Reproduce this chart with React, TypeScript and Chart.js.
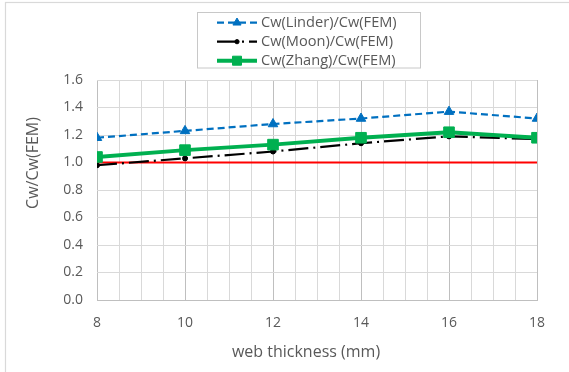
import { useEffect, useRef } from 'react';
import { Chart, registerables } from 'chart.js';

Chart.register(...registerables);

// ---- data ----
const thickness = [8, 10, 12, 14, 16, 18];
const linder = [1.18, 1.23, 1.28, 1.32, 1.37, 1.32];
const moon = [0.98, 1.03, 1.08, 1.14, 1.19, 1.17];
const zhang = [1.04, 1.09, 1.13, 1.18, 1.22, 1.18];
const reference = [1, 1, 1, 1, 1, 1];
const seriesNames = ['Cw(Linder)/Cw(FEM)', 'Cw(Moon)/Cw(FEM)', 'Cw(Zhang)/Cw(FEM)'];
const xTitle = 'web thickness (mm)';
const yTitle = 'Cw/Cw(FEM)';
const xMin = 8, xMax = 18, xStep = 0.5;
const yMin = 0, yMax = 1.6, yStep = 0.2;

const FONT = "'Open Sans', 'Noto Sans', sans-serif";
const TEXT = '#595959';

function pts(vals: number[]) {
  return thickness.map((x, i) => ({ x, y: vals[i] }));
}

function drawMarker(ctx: CanvasRenderingContext2D, style: string, x: number, y: number, r: number, color: string) {
  ctx.save();
  ctx.setLineDash([]);
  ctx.fillStyle = color;
  ctx.strokeStyle = color;
  ctx.lineWidth = 1;
  ctx.beginPath();
  if (style === 'triangle') {
    let rad = 0;
    ctx.moveTo(x + Math.sin(rad) * r, y - Math.cos(rad) * r);
    rad += (2 * Math.PI) / 3;
    ctx.lineTo(x + Math.sin(rad) * r, y - Math.cos(rad) * r);
    rad += (2 * Math.PI) / 3;
    ctx.lineTo(x + Math.sin(rad) * r, y - Math.cos(rad) * r);
    ctx.closePath();
  } else if (style === 'rect') {
    const s = Math.SQRT1_2 * r;
    ctx.rect(x - s, y - s, 2 * s, 2 * s);
  } else {
    ctx.arc(x, y, r, 0, Math.PI * 2);
  }
  ctx.fill();
  ctx.stroke();
  ctx.restore();
}

const framePlugin = {
  id: 'frame',
  beforeDraw(chart: any) {
    const ctx = chart.ctx as CanvasRenderingContext2D;
    ctx.save();
    ctx.fillStyle = '#ffffff';
    ctx.fillRect(0, 0, chart.width, chart.height);
    ctx.strokeStyle = '#d9d9d9';
    ctx.lineWidth = 1.2;
    ctx.strokeRect(5.5, 2.5, chart.width + 20, chart.height + 20);
    ctx.restore();
  },
};

const titlesPlugin = {
  id: 'axisTitles',
  afterDraw(chart: any) {
    const ctx = chart.ctx as CanvasRenderingContext2D;
    ctx.save();
    ctx.fillStyle = TEXT;
    ctx.font = `16px ${FONT}`;
    ctx.textAlign = 'center';
    ctx.textBaseline = 'middle';
    ctx.fillText(xTitle, 306, 352);
    ctx.translate(33, 163);
    ctx.rotate(-Math.PI / 2);
    ctx.fillText(yTitle, 0, 0);
    ctx.restore();
  },
};

const legendPlugin = {
  id: 'boxLegend',
  afterDraw(chart: any) {
    const ctx = chart.ctx as CanvasRenderingContext2D;
    ctx.save();
    ctx.strokeStyle = '#c8c8c8';
    ctx.lineWidth = 1;
    ctx.strokeRect(197.5, 12.5, 223, 55.5);
    let row = 0;
    chart.data.datasets.forEach((ds: any) => {
      if (ds.inLegend === false) return;
      const y = 22.7 + row * 19;
      const x0 = 217, x1 = 257;
      ctx.save();
      ctx.strokeStyle = ds.borderColor;
      ctx.lineWidth = ds.borderWidth;
      ctx.setLineDash(ds.borderDash || []);
      ctx.beginPath();
      ctx.moveTo(x0, y);
      ctx.lineTo(x1, y);
      ctx.stroke();
      ctx.restore();
      drawMarker(ctx, ds.pointStyle, (x0 + x1) / 2, y, ds.pointRadius * 0.85, ds.pointBackgroundColor);
      ctx.fillStyle = TEXT;
      ctx.font = `14.6px ${FONT}`;
      ctx.textBaseline = 'middle';
      ctx.textAlign = 'left';
      ctx.fillText(ds.label, 261, y + 0.5);
      row++;
    });
    ctx.restore();
  },
};

export default function App() {
  const ref = useRef<HTMLCanvasElement | null>(null);

  useEffect(() => {
    if (!ref.current) return;
    const chart = new Chart(ref.current, {
      type: 'line',
      data: {
        datasets: [
          {
            label: seriesNames[0],
            data: pts(linder),
            borderColor: '#0070C0',
            borderWidth: 2.2,
            borderDash: [7, 4],
            pointStyle: 'triangle',
            pointRadius: 5.5,
            pointBackgroundColor: '#0070C0',
            pointBorderColor: '#0070C0',
            pointBorderWidth: 1,
            order: 3,
          },
          {
            label: seriesNames[1],
            data: pts(moon),
            borderColor: '#000000',
            borderWidth: 2.2,
            borderDash: [20, 5, 2, 5],
            pointStyle: 'circle',
            pointRadius: 2.5,
            pointBackgroundColor: '#000000',
            pointBorderColor: '#000000',
            pointBorderWidth: 1,
            order: 2,
          },
          {
            label: seriesNames[2],
            data: pts(zhang),
            borderColor: '#00B050',
            borderWidth: 4,
            pointStyle: 'rect',
            pointRadius: 7.5,
            pointBackgroundColor: '#00B050',
            pointBorderColor: '#00B050',
            pointBorderWidth: 1,
            order: 1,
          },
          {
            label: 'reference',
            data: pts(reference),
            borderColor: '#FF0000',
            borderWidth: 2,
            pointRadius: 0,
            order: 4,
            inLegend: false,
          } as any,
        ],
      },
      options: {
        animation: false,
        responsive: false,
        maintainAspectRatio: false,
        layout: { padding: { left: 0, right: 32, top: 80, bottom: 0 } },
        plugins: {
          legend: { display: false },
          tooltip: { enabled: false },
        },
        scales: {
          x: {
            type: 'linear',
            min: xMin,
            max: xMax,
            afterFit: (s: any) => { s.height = 72; },
            ticks: {
              stepSize: xStep,
              autoSkip: false,
              maxRotation: 0,
              padding: 15,
              color: TEXT,
              font: { family: FONT, size: 14 },
              callback: (v: any) => (Number(v) % 2 === 0 ? String(v) : ''),
            },
            grid: {
              drawTicks: false,
              color: (c: any) => (c.tick && c.tick.value % 2 === 0 ? '#bfbfbf' : '#d9d9d9'),
              lineWidth: 1,
            },
            border: { display: true, color: '#bfbfbf' },
            title: { display: false },
          },
          y: {
            type: 'linear',
            min: yMin,
            max: yMax,
            afterFit: (s: any) => { s.width = 97; },
            ticks: {
              stepSize: yStep,
              padding: 14,
              color: TEXT,
              font: { family: FONT, size: 14 },
              callback: (v: any) => Number(v).toFixed(1),
            },
            grid: { drawTicks: false, color: '#d9d9d9', lineWidth: 1 },
            border: { display: false },
            title: { display: false },
          },
        },
      },
      plugins: [framePlugin, legendPlugin, titlesPlugin],
    } as any);
    return () => chart.destroy();
  }, []);

  return (
    <div style={{ position: 'fixed', left: 0, top: 0, width: 569, height: 372, background: '#fff' }}>
      <canvas ref={ref} width={569} height={372} style={{ display: 'block' }} />
    </div>
  );
}
